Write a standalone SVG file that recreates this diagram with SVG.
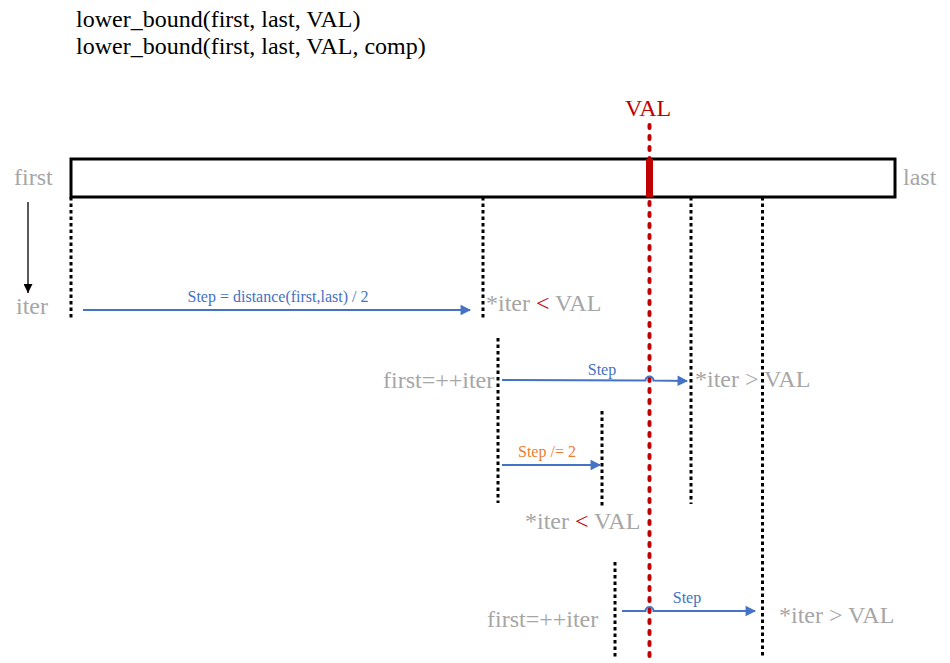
<svg xmlns="http://www.w3.org/2000/svg" width="950" height="663" viewBox="0 0 950 663">
<style>
text{font-family:"Liberation Serif","Times New Roman",serif}
.t{font-size:24px;fill:#000}
.g{font-size:24px;fill:#A6A6A6}
.r{fill:#C00000}
.s{font-size:16px;fill:#4472C4}
.o{font-size:16px;fill:#ED7D31}
.dot{stroke:#000;stroke-width:3;stroke-dasharray:3.5 3;fill:none}
.red{stroke:#C00000;stroke-width:4;stroke-dasharray:3 8;stroke-linecap:round;fill:none}
.blue{stroke:#4472C4;stroke-width:2;fill:none;marker-end:url(#ab)}
</style>
<defs>
<marker id="ab" viewBox="0 0 10 10" refX="9" refY="5" markerWidth="7" markerHeight="7" markerUnits="userSpaceOnUse" orient="auto" overflow="visible">
<path d="M0,0 L10,5 L0,10 z" fill="#4472C4" transform="scale(1.5) translate(-3,-1.7)"/>
</marker>
<marker id="ak" viewBox="0 0 10 10" refX="10" refY="5" markerWidth="9" markerHeight="9" markerUnits="userSpaceOnUse" orient="auto">
<path d="M0,0 L10,5 L0,10 z" fill="#000"/>
</marker>
</defs>
<g id="title">
<text class="t" x="76" y="27">lower_bound(first, last, VAL)</text>
<text class="t" x="76" y="54">lower_bound(first, last, VAL, comp)</text>
</g>
<g id="array">
<rect x="71" y="159" width="824" height="38" fill="#fff" stroke="#000" stroke-width="3"/>
<rect x="646" y="159" width="7" height="38" fill="#C00000"/>
</g>
<g id="labels">
<text class="g" x="14" y="185">first</text>
<text class="g" x="903" y="185">last</text>
<text class="g" x="16" y="314">iter</text>
<text style="font-size:24px" class="r" x="625" y="116">VAL</text>
<text class="g" x="486" y="311">*iter <tspan class="r">&lt;</tspan> VAL</text>
<text class="g" x="383" y="388">first=++iter</text>
<text class="g" x="695" y="387">*iter &gt; VAL</text>
<text class="g" x="525" y="529">*iter <tspan class="r">&lt;</tspan> VAL</text>
<text class="g" x="487" y="627">first=++iter</text>
<text class="g" x="779" y="623">*iter &gt; VAL</text>
</g>
<g id="connectors">
<line x1="28" y1="202" x2="28" y2="293" stroke="#000" stroke-width="1.3" marker-end="url(#ak)"/>
<line class="dot" x1="71" y1="197" x2="71" y2="318"/>
<line class="dot" x1="483" y1="197" x2="483" y2="318"/>
<line class="dot" x1="691" y1="197" x2="691" y2="504"/>
<line class="dot" x1="762.5" y1="197" x2="762.5" y2="658"/>
<line class="dot" x1="498" y1="338" x2="498" y2="503"/>
<line class="dot" x1="602" y1="411" x2="602" y2="506"/>
<line class="dot" x1="615" y1="562" x2="615" y2="658"/>
<line class="red" x1="649.5" y1="125" x2="649.5" y2="663"/>
<path class="blue" d="M83,310 L470,310"/>
<path class="blue" d="M502,380 L645.5,380.5 A4,4 0 0 1 653.5,380.5 L687,381"/>
<path class="blue" d="M502,465 L600,465"/>
<path class="blue" d="M622,611 L645.5,611 A4,4 0 0 1 653.5,611 L755,611"/>
<text class="s" x="278" y="302" text-anchor="middle">Step = distance(first,last) / 2</text>
<text class="s" x="602" y="375" text-anchor="middle">Step</text>
<text class="o" x="518" y="457">Step /= 2</text>
<text class="s" x="687" y="603" text-anchor="middle">Step</text>
</g>
</svg>
